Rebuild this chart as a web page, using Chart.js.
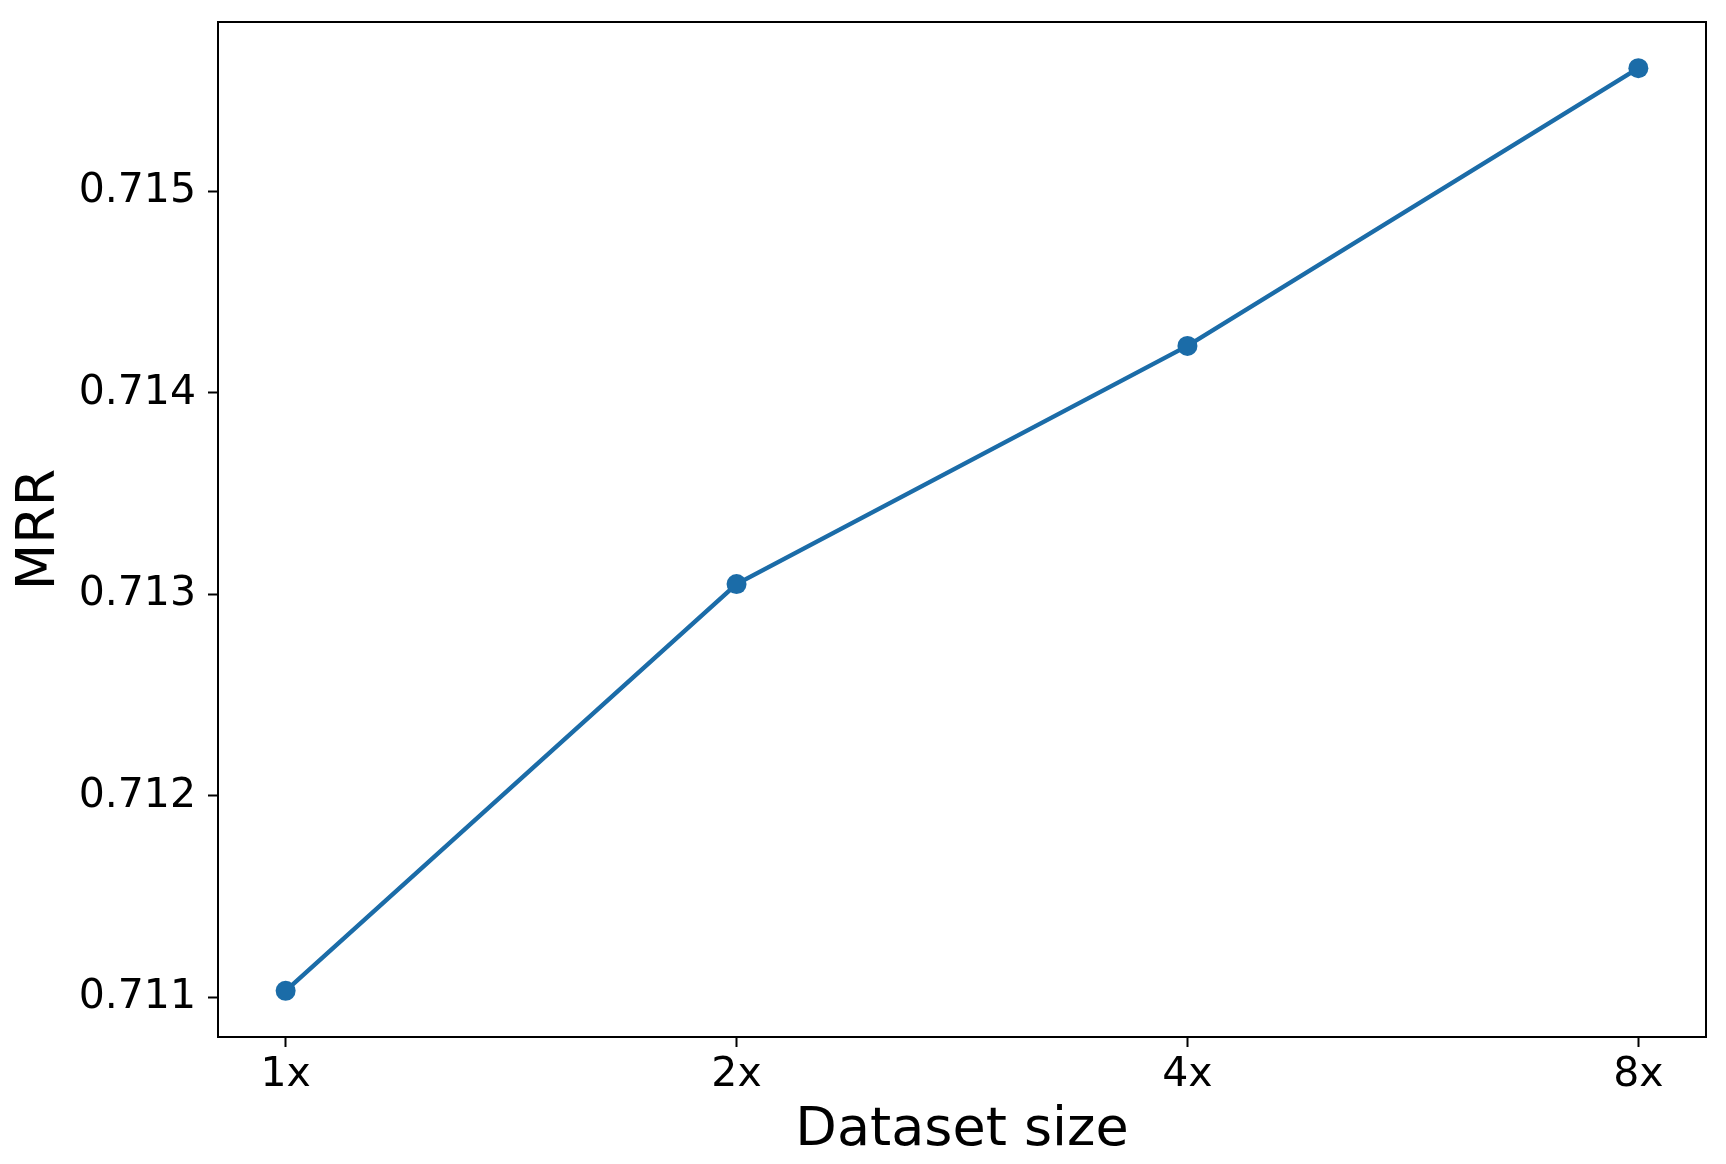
<!DOCTYPE html>
<html>
<head>
<meta charset="utf-8">
<script src="https://cdn.jsdelivr.net/npm/chart.js@4"></script>
<style>
  body { margin: 0; background: #fff; }
  canvas { display: block; }
</style>
</head>
<body>
<canvas id="chart" width="1726" height="1164"></canvas>
<script>
// data
const sizes = ['1x', '2x', '4x', '8x'];
const mrr = [0.711033, 0.713051, 0.714233, 0.715611];
const yTicks = [0.711, 0.712, 0.713, 0.714, 0.715];

const blue = '#1b6ca8';
const font = 'DejaVu Sans';

// matplotlib style 5% margins
const yPad = (Math.max(...mrr) - Math.min(...mrr)) * 0.05;
const xPad = (sizes.length - 1) * 0.05;

// top and right spines
const framePlugin = {
  id: 'frame',
  afterDraw(chart) {
    const { ctx, chartArea } = chart;
    ctx.save();
    ctx.strokeStyle = '#000';
    ctx.lineWidth = 2;
    ctx.strokeRect(chartArea.left, chartArea.top, chartArea.right - chartArea.left, chartArea.bottom - chartArea.top);
    ctx.restore();
  }
};

new Chart(document.getElementById('chart'), {
  type: 'line',
  data: {
    datasets: [{
      data: mrr.map((v, i) => ({ x: i, y: v })),
      borderColor: blue,
      backgroundColor: blue,
      borderWidth: 4.4,
      pointRadius: 10,
      pointBorderWidth: 0,
      pointHoverRadius: 10,
      tension: 0
    }]
  },
  options: {
    responsive: false,
    animation: false,
    layout: { padding: { top: 22, right: 20, left: 0, bottom: 0 } },
    plugins: { legend: { display: false }, tooltip: { enabled: false } },
    scales: {
      x: {
        type: 'linear',
        min: -xPad,
        max: sizes.length - 1 + xPad,
        afterBuildTicks: (scale) => { scale.ticks = sizes.map((s, i) => ({ value: i })); },
        afterFit: (scale) => { scale.height = 127; scale.paddingLeft = 0; scale.paddingRight = 0; },
        ticks: {
          callback: (v) => sizes[v],
          color: '#000',
          font: { family: font, size: 41 },
          padding: 4,
          maxRotation: 0
        },
        grid: { drawOnChartArea: false, drawTicks: true, tickLength: 10, tickWidth: 2, tickColor: '#000' },
        border: { display: true, color: '#000', width: 2 },
        title: {
          display: true,
          text: 'Dataset size',
          color: '#000',
          font: { family: font, size: 54, lineHeight: 1.2 },
          padding: { top: 0, bottom: 1 }
        }
      },
      y: {
        type: 'linear',
        min: Math.min(...mrr) - yPad,
        max: Math.max(...mrr) + yPad,
        afterBuildTicks: (scale) => { scale.ticks = yTicks.map(v => ({ value: v })); },
        afterFit: (scale) => { scale.width = 218; scale.paddingTop = 0; scale.paddingBottom = 0; },
        ticks: {
          callback: (v) => v.toFixed(3),
          color: '#000',
          font: { family: font, size: 41 },
          padding: 12
        },
        grid: { drawOnChartArea: false, drawTicks: true, tickLength: 10, tickWidth: 2, tickColor: '#000' },
        border: { display: true, color: '#000', width: 2 },
        title: {
          display: true,
          text: 'MRR',
          color: '#000',
          font: { family: font, size: 54, lineHeight: 1.2 },
          padding: { top: 8, bottom: 0 }
        }
      }
    }
  },
  plugins: [framePlugin]
});
</script>
</body>
</html>
